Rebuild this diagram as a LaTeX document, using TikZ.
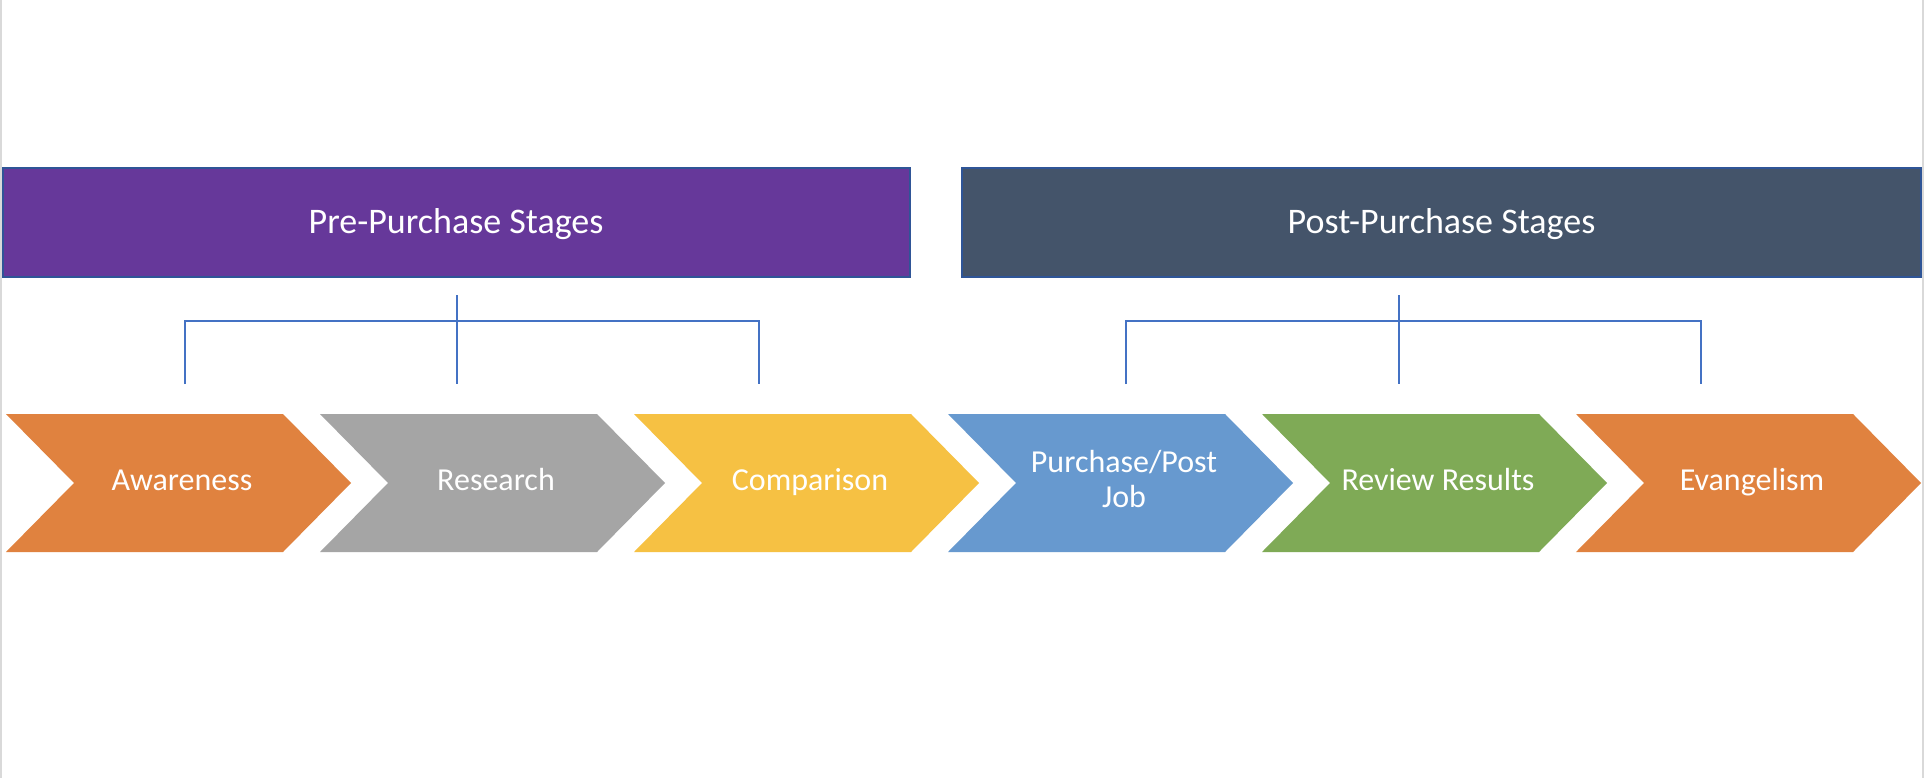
\documentclass[tikz,border=0pt]{standalone}
\usepackage{fontspec}
\setmainfont{Carlito}
\definecolor{prepurple}{HTML}{66389A}
\definecolor{postslate}{HTML}{44546A}
\definecolor{boxedge}{HTML}{2F5597}
\definecolor{corange}{HTML}{E0823F}
\definecolor{cgray}{HTML}{A5A5A5}
\definecolor{cyellow}{HTML}{F6C143}
\definecolor{cblue}{HTML}{6799CF}
\definecolor{cgreen}{HTML}{7FAA56}
\definecolor{bracketblue}{HTML}{4472C4}
\definecolor{edgegray}{HTML}{D9D9D9}
% #1 name, #2 left x, #3 colour, #4 text y, #5 anchor, #6 text
\newcommand{\chevshape}[6]{%
  \fill[#3] (#2,414) -- ++(277,0) -- ++(68,69) -- ++(-68,69) -- ++(-277,0) -- ++(68,-69) -- cycle;
  \node[chevtext, anchor=#5] (#1) at ({#2+176},#4) {#6};
}
\begin{document}
\begin{tikzpicture}[x=1pt,y=-1pt,
  titlebox/.style={draw=boxedge, line width=2pt, text=white, inner sep=0pt,
    text height=25pt, text depth=3.4pt,
    font=\fontsize{36}{40}\selectfont},
  chevtext/.style={text=white, align=center, inner sep=0pt,
    font=\fontsize{32}{35}\selectfont},
  bracket/.style={draw=bracketblue, line width=1.6pt}]
\useasboundingbox (0,0) rectangle (1924,778);
\fill[white] (0,0) rectangle (1924,778);
\fill[edgegray] (0,0) rectangle (2,778);
\fill[edgegray] (1922,0) rectangle (1924,778);

% header boxes
\node[titlebox, fill=prepurple, minimum width=907pt, minimum height=108pt] (pre) at (456,222.5) {Pre-Purchase Stages};
\node[titlebox, fill=postslate, minimum width=959pt, minimum height=108pt] (post) at (1441.5,222.5) {Post-Purchase Stages};

% chevrons
\chevshape{aware}{6}{corange}{490}{base}{Awareness}
\chevshape{research}{320}{cgray}{490}{base}{Research}
\chevshape{compare}{634}{cyellow}{490}{base}{Comparison}
\chevshape{purchase}{948}{cblue}{479}{center}{Purchase/Post\\Job}
\chevshape{review}{1262}{cgreen}{490}{base}{Review Results}
\chevshape{evangel}{1576}{corange}{490}{base}{Evangelism}

% brackets
\coordinate (ltop) at (457,295);
\coordinate (ll) at (185,321);
\coordinate (lr) at (759,321);
\coordinate (llb) at (185,384);
\coordinate (lmb) at (457,384);
\coordinate (lrb) at (759,384);
\draw[bracket] (ltop) -- (lmb);
\draw[bracket] (llb) -- (ll) -- (lr) -- (lrb);

\coordinate (rtop) at (1399,295);
\coordinate (rl) at (1126,321);
\coordinate (rr) at (1701,321);
\coordinate (rlb) at (1126,384);
\coordinate (rmb) at (1399,384);
\coordinate (rrb) at (1701,384);
\draw[bracket] (rtop) -- (rmb);
\draw[bracket] (rlb) -- (rl) -- (rr) -- (rrb);
\end{tikzpicture}
\end{document}
